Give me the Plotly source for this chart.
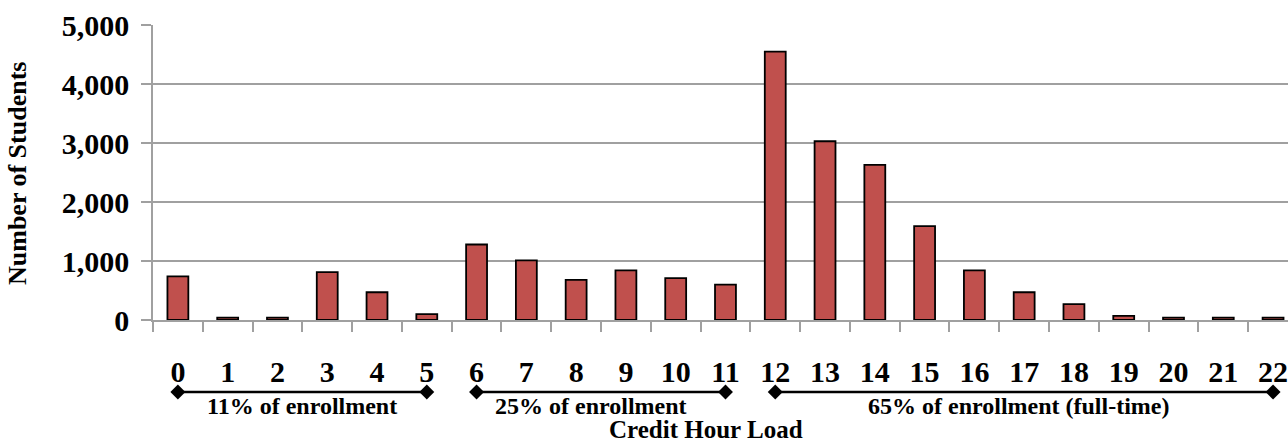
import plotly.graph_objects as go

# ---- data ----
credit_hours = [str(i) for i in range(23)]
students = [740, 40, 40, 810, 470, 100, 1280, 1010, 680, 840, 710, 600,
            4550, 3030, 2630, 1590, 840, 470, 270, 70, 40, 40, 40]

group_labels = ["11% of enrollment", "25% of enrollment", "65% of enrollment (full-time)"]
group_start = ["0", "6", "12"]
group_end = ["5", "11", "22"]
group_label_pos = [2.5, 8.3, 16.9]

x_title = "Credit Hour Load"
y_title = "Number of Students"

FONT = "Liberation Serif"
BAR_COLOR = "#C0504D"
GRID = "#A0A0A0"

fig = go.Figure()
fig.add_trace(go.Bar(
    x=credit_hours, y=students, width=0.42,
    marker=dict(color=BAR_COLOR, line=dict(color="black", width=1.8)),
    xaxis="x", yaxis="y", showlegend=False, hoverinfo="x+y",
))

# brackets beneath the axis
for s, e in zip(group_start, group_end):
    fig.add_trace(go.Scatter(
        x=[s, e], y=[56, 56], mode="lines+markers",
        line=dict(color="black", width=2.5),
        marker=dict(symbol="diamond", size=11.5, color="black"),
        xaxis="x2", yaxis="y2", showlegend=False, hoverinfo="skip",
        cliponaxis=False,
    ))

annotations = []
for lab, pos in zip(group_labels, group_label_pos):
    annotations.append(dict(
        x=pos, y=42, xref="x2", yref="y2", text="<b>%s</b>" % lab,
        showarrow=False, font=dict(family=FONT, size=24, color="black"),
        xanchor="center", yanchor="middle"))

annotations.append(dict(
    x=(706 - 153) / 1135, y=3, xref="paper", yref="y2",
    text="<b>%s</b>" % x_title, showarrow=False,
    font=dict(family=FONT, size=25, color="black"),
    xanchor="center", yanchor="bottom"))

annotations.append(dict(
    x=(18 - 153) / 1135, y=(448 - 174) / 423, xref="paper", yref="paper",
    text="<b>%s</b>" % y_title, showarrow=False, textangle=-90,
    font=dict(family=FONT, size=26, color="black"),
    xanchor="center", yanchor="middle"))

fig.update_layout(
    width=1288, height=448,
    margin=dict(l=153, r=0, t=25, b=0, autoexpand=False),
    paper_bgcolor="white", plot_bgcolor="white",
    xaxis=dict(
        type="category", range=[-0.5, 22.3], anchor="y", automargin=False,
        tickson="boundaries", ticks="outside", ticklen=10, tickwidth=1.5,
        tickcolor=GRID, showgrid=False, showline=True, linecolor=GRID,
        linewidth=1.5, zeroline=False,
        tickfont=dict(family=FONT, size=30, color="black"),
        ticklabelstandoff=24,
        tickprefix="<b>", ticksuffix="</b>",
    ),
    yaxis=dict(
        domain=[128 / 423, 1], range=[0, 5000], dtick=1000, automargin=False,
        tickformat=",", showgrid=True, gridcolor=GRID, gridwidth=1.5,
        showline=True, linecolor=GRID, linewidth=1.5,
        ticks="outside", ticklen=10, tickwidth=1.5, tickcolor=GRID,
        zeroline=False,
        tickfont=dict(family=FONT, size=30, color="black"),
        tickprefix="<b>", ticksuffix="</b>",
        ticklabelstandoff=6,
    ),
    xaxis2=dict(type="category", matches="x", anchor="y2", visible=False,
                automargin=False),
    yaxis2=dict(domain=[0, 128 / 423], range=[0, 128], visible=False,
                fixedrange=True, automargin=False),
    annotations=annotations,
)

fig.write_html("out.html",
               config={"displayModeBar": False},
               post_script="document.body.style.margin='0';document.body.style.overflow='hidden';")
